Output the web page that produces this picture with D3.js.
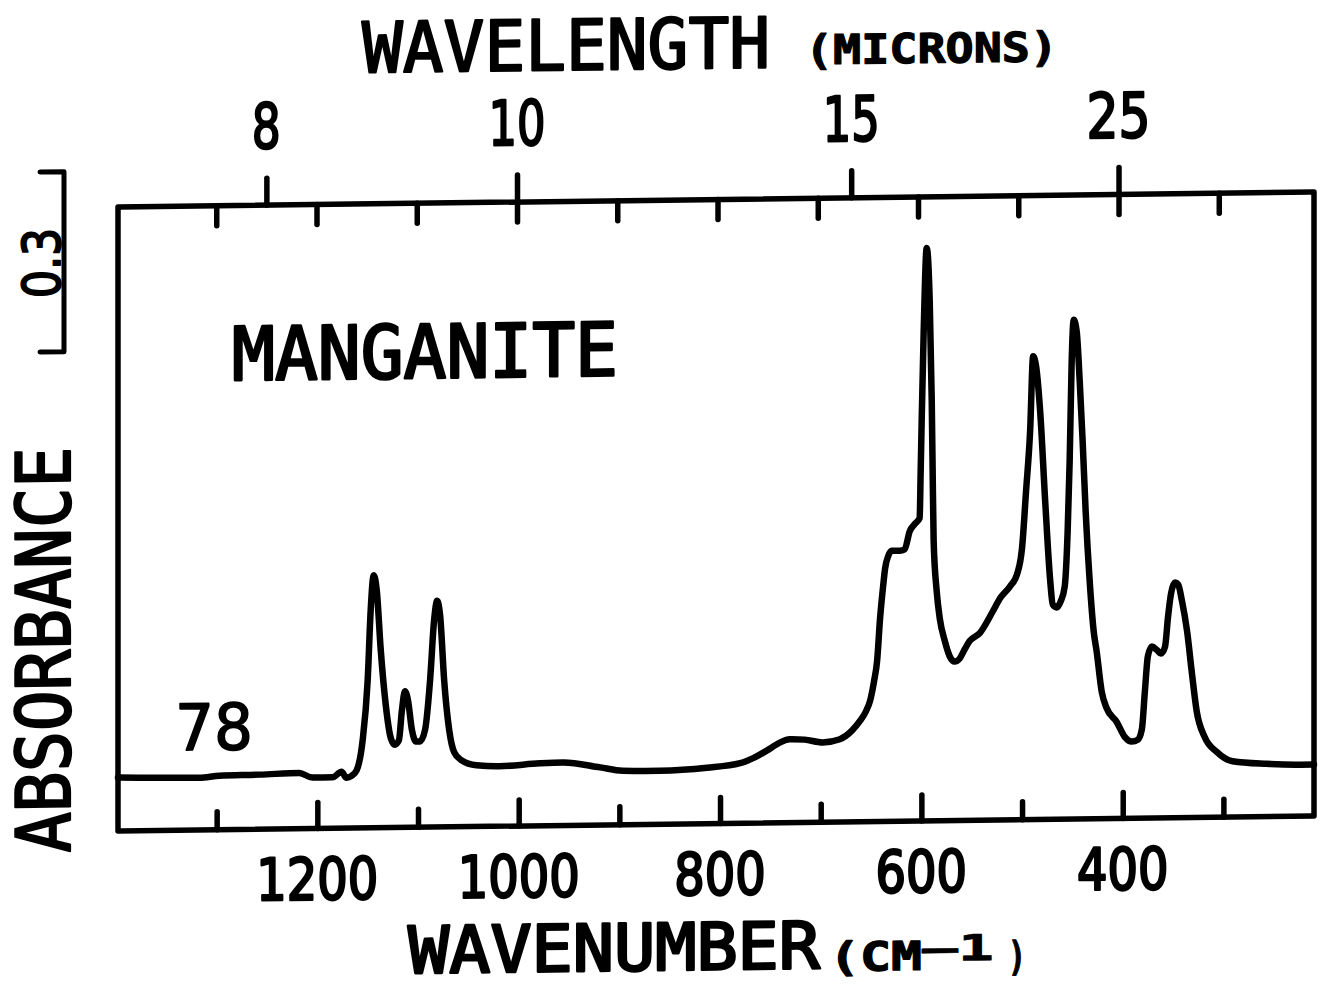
<!DOCTYPE html>
<html><head><meta charset="utf-8">
<script src="https://cdn.jsdelivr.net/npm/d3@7"></script>
<style>
html,body{margin:0;padding:0;background:#fff;}
svg{display:block;}
</style></head><body>
<svg id="chart" width="1323" height="989"></svg>
<script>
// ---- data (wavenumber in cm-1, absorbance in plot units) ----
const wavenumber = [1398,1357,1317,1297,1257,1218,1205,1185,1176,1171,1166,1161,1155,1150,1147,1144,1141,1137,1132,1127,1123,1119,1116,1113,1110,1106,1102,1098,1093,1088,1084,1081,1078,1074,1069,1064,1057,1042,1019,979,956,919,897,860,813,780,766,754,741,731,716,698,681,669,661,655,651,647,644,641,638,636,633,629.5,621.5,616.6,611.6,606.6,601.7,600.7,599.7,597.7,594.7,591.7,589.7,588.8,587.8,584.8,581.8,576.8,571.9,566.9,561.9,557,552,542,529,522,512,505,500,496,492,489,486,482,477,472,469.5,465.6,461.6,457.6,454.7,452.7,450.7,448.7,445.7,442.7,439.8,436.8,432.8,428.8,425.9,420.9,415.9,406,398,391,385,381,378,375,371,366,362,358,355,352,348,345,341,336,331.5,326.5,318.6,306.6,290.8,257,224,210];
const absorbance = [0.089,0.088,0.087,0.090,0.091,0.093,0.085,0.085,0.094,0.084,0.087,0.096,0.146,0.246,0.363,0.421,0.396,0.296,0.204,0.149,0.138,0.145,0.195,0.227,0.212,0.162,0.143,0.143,0.162,0.245,0.345,0.377,0.352,0.244,0.161,0.124,0.111,0.102,0.100,0.104,0.105,0.096,0.090,0.089,0.093,0.100,0.109,0.120,0.133,0.139,0.138,0.133,0.138,0.152,0.168,0.184,0.201,0.234,0.267,0.339,0.392,0.422,0.442,0.451,0.451,0.453,0.483,0.495,0.505,0.583,0.666,0.816,0.955,0.866,0.700,0.583,0.466,0.383,0.338,0.300,0.274,0.265,0.270,0.285,0.299,0.312,0.348,0.369,0.389,0.409,0.453,0.548,0.647,0.772,0.755,0.680,0.530,0.397,0.358,0.353,0.363,0.388,0.480,0.597,0.763,0.832,0.812,0.729,0.629,0.512,0.396,0.312,0.279,0.212,0.184,0.161,0.136,0.128,0.131,0.148,0.211,0.270,0.286,0.280,0.274,0.285,0.335,0.374,0.392,0.389,0.360,0.310,0.244,0.177,0.134,0.109,0.093,0.088,0.086,0.086];
const bottomMajorTicks = [1200,1000,800,600,400];
const bottomMinorTicks = [1300,1100,900,700,500,300];
const topInnerTicks = [1300,1200,1100,1000,900,800,700,600,500,400,300];
const topMicronTicks = [8,10,15,25];
const scaleBarValue = 0.3;
const sampleName = "MANGANITE";
const sampleNumber = "78";

// ---- drawing ----
const svg = d3.select("#chart");
svg.append("rect").attr("width",1323).attr("height",989).attr("fill","#fff");
// the scanned plot is slightly sheared
const g = svg.append("g").attr("transform","translate(118,0) skewY(-0.716) translate(-118,0)");

const x = d3.scaleLinear().domain([1398,210]).range([118,1314]);
const xTop = d3.scaleLinear().domain([1398,210]).range([118,1309]);
const y = d3.scaleLinear().domain([0,1.04]).range([831,207]);

const INK = "#000";
const MONO = "'DejaVu Sans Mono', monospace";
const SANS = "'DejaVu Sans', sans-serif";

// frame
g.append("rect")
  .attr("x", x(1398)).attr("y", y(1.04))
  .attr("width", x(210)-x(1398)).attr("height", y(0)-y(1.04))
  .attr("fill","none").attr("stroke",INK).attr("stroke-width",5.5).attr("stroke-linejoin","round");

function styleAxis(sel){
  sel.select(".domain").remove();
  sel.selectAll(".tick line").attr("stroke",INK).attr("stroke-width",5.5).attr("stroke-linecap","round");
}
g.append("g").attr("transform",`translate(0,${y(0)})`)
  .call(d3.axisBottom(x).tickValues(bottomMajorTicks).tickSize(-26).tickFormat("")).call(styleAxis);
g.append("g").attr("transform",`translate(0,${y(0)})`)
  .call(d3.axisBottom(x).tickValues(bottomMinorTicks).tickSize(-18).tickFormat("")).call(styleAxis);
g.append("g").attr("transform",`translate(0,${y(1.04)})`)
  .call(d3.axisTop(xTop).tickValues(topInnerTicks).tickSize(-20).tickFormat("")).call(styleAxis);
g.append("g").attr("transform",`translate(0,${y(1.04)})`)
  .call(d3.axisTop(xTop).tickValues(topMicronTicks.map(m=>10000/m)).tickSize(27).tickFormat("")).call(styleAxis);

function label(str, cx, base, size, len, opt={}){
  const t = g.append("text")
    .attr("x",cx).attr("y",base)
    .attr("text-anchor", opt.anchor || "middle")
    .attr("font-family", opt.family || MONO)
    .attr("font-size", size)
    .attr("font-weight", opt.weight || "normal")
    .attr("fill",INK).attr("stroke",INK)
    .attr("stroke-width", opt.sw===undefined?2.2:opt.sw).attr("stroke-linejoin","round")
    .attr("textLength", len).attr("lengthAdjust","spacingAndGlyphs")
    .text(str);
  if (opt.rotate) t.attr("transform",`rotate(${opt.rotate},${cx},${base})`);
  return t;
}

// top axis labels
label("WAVELENGTH", 566, 75.6, 70, 408);
label("(MICRONS)", 931.5, 73, 41, 253, {weight:"bold", sw:1.2});
const topLen = {8:29, 10:57, 15:57, 25:64};
topMicronTicks.forEach(m => label(String(m), xTop(10000/m), 150, 62, topLen[m], {family:SANS, sw:2.4}));

// bottom axis labels
bottomMajorTicks.forEach(v => {
  const s = String(v);
  label(s, x(v), 902, 58, s.length*30.5, {family:SANS, sw:2.6});
});
label("WAVENUMBER", 614, 977, 65, 412, {sw:2.6});
label("(CM", 829, 980, 40, 93, {anchor:"start", weight:"bold", sw:1.2});
label("\u20131", 922, 971, 36, 72, {anchor:"start", weight:"bold", sw:0.6});
label(")", 1008, 981.5, 40, 18, {anchor:"start", weight:"bold", sw:1.2});

// left side: absorbance title and scale bar
label("ABSORBANCE", 70, 649, 75, 406, {rotate:-90});
const barTop = 1.10, barBottom = barTop - scaleBarValue;
g.append("path")
  .attr("d", `M40,${y(barTop)}H64V${y(barBottom)}H40`)
  .attr("fill","none").attr("stroke",INK).attr("stroke-width",5)
  .attr("stroke-linecap","round").attr("stroke-linejoin","round");
label(String(scaleBarValue), 60, (y(barTop)+y(barBottom))/2 + 1, 52, 70, {family:SANS, rotate:-90, sw:2});

// annotations
label(sampleName, 425, 381.8, 74, 386, {sw:2.6});
label(sampleNumber, 214, 751, 64, 78, {family:SANS, sw:1.6});

// spectrum
const line = d3.line().x(d=>x(d[0])).y(d=>y(d[1])).curve(d3.curveMonotoneX);
g.append("path")
  .datum(d3.zip(wavenumber, absorbance))
  .attr("d", line)
  .attr("fill","none").attr("stroke",INK).attr("stroke-width",6.5)
  .attr("stroke-linejoin","round").attr("stroke-linecap","round");
</script>
</body></html>
